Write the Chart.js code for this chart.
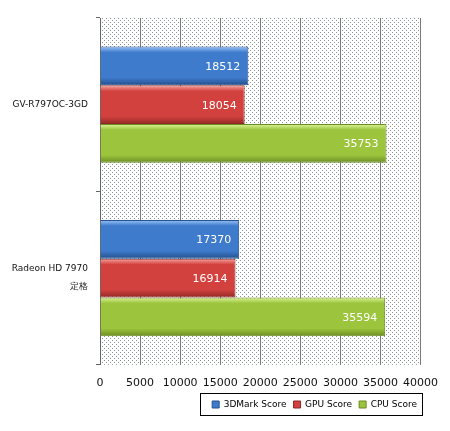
<!DOCTYPE html>
<html>
<head>
<meta charset="utf-8">
<script src="https://cdn.jsdelivr.net/npm/chart.js@4"></script>
<style>
  body { margin: 0; background: #fff; }
  #wrap { width: 450px; height: 431px; }
</style>
</head>
<body>
<div id="wrap"><canvas id="barChart"></canvas></div>
<script>
const cards = [["GV-R797OC-3GD"], ["Radeon HD 7970", "定格"]];
const seriesNames = ["3DMark Score", "GPU Score", "CPU Score"];
const score3dmark = [18512, 17370];
const scoreGpu = [18054, 16914];
const scoreCpu = [35753, 35594];
const xTicks = [0, 5000, 10000, 15000, 20000, 25000, 30000, 35000, 40000];

const palette = [
    { top: '#9cc6f7', mid: '#3f7bcc', bot: '#244f8c', edge: '#24508f' },
    { top: '#f8a5a1', mid: '#d2413e', bot: '#922926', edge: '#8f2724' },
    { top: '#def59a', mid: '#9cc43d', bot: '#6c8c22', edge: '#6a8a22' }
];

// stippled background of the plot area
const dotsPlugin = {
    id: 'dots',
    beforeDraw(chart) {
        const a = chart.chartArea;
        const p = document.createElement('canvas');
        p.width = 4; p.height = 4;
        const pc = p.getContext('2d');
        pc.fillStyle = '#ffffff';
        pc.fillRect(0, 0, 4, 4);
        pc.fillStyle = '#8a9296';
        pc.fillRect(0, 0, 1, 1);
        pc.fillRect(2, 2, 1, 1);
        const ctx = chart.ctx;
        ctx.save();
        ctx.fillStyle = ctx.createPattern(p, 'repeat');
        ctx.fillRect(a.left, a.top, a.right - a.left, a.bottom - a.top);
        ctx.restore();
    }
};

// shaded bars, value labels, legend placement and frame
const labelPlugin = {
    id: 'labels',
    afterLayout(chart) {
        const l = chart.legend;
        const dx = -19, dy = 393 - l.top;
        l.left += dx; l.right += dx; l.top += dy; l.bottom += dy;
    },
    beforeDatasetsDraw(chart) {
        const ctx = chart.ctx;
        chart.data.datasets.forEach((ds, i) => {
            const c = palette[i];
            chart.getDatasetMeta(i).data.forEach(bar => {
                const h = bar.height;
                const g = ctx.createLinearGradient(0, bar.y - h / 2, 0, bar.y + h / 2);
                g.addColorStop(0, c.top);
                g.addColorStop(0.15, c.mid);
                g.addColorStop(0.8, c.mid);
                g.addColorStop(1, c.bot);
                bar.options = Object.assign({}, bar.options, { backgroundColor: g });
            });
        });
    },
    afterDatasetsDraw(chart) {
        const ctx = chart.ctx;
        ctx.save();
        ctx.font = '11px "DejaVu Sans"';
        ctx.fillStyle = '#ffffff';
        ctx.textAlign = 'right';
        ctx.textBaseline = 'middle';
        chart.data.datasets.forEach((ds, i) => {
            chart.getDatasetMeta(i).data.forEach((bar, j) => {
                ctx.fillText(ds.data[j], bar.x - 8, bar.y + 1);
            });
        });
        ctx.restore();
    },
    afterDraw(chart) {
        const ctx = chart.ctx;
        ctx.save();
        ctx.strokeStyle = '#000';
        ctx.lineWidth = 1;
        ctx.strokeRect(200.5, 393.5, 222, 22);
        ctx.restore();
    }
};

new Chart(document.getElementById('barChart').getContext('2d'), {
    type: 'bar',
    data: {
        labels: cards,
        datasets: [
            { label: seriesNames[0], data: score3dmark, backgroundColor: palette[0].mid, borderColor: palette[0].edge },
            { label: seriesNames[1], data: scoreGpu, backgroundColor: palette[1].mid, borderColor: palette[1].edge },
            { label: seriesNames[2], data: scoreCpu, backgroundColor: palette[2].mid, borderColor: palette[2].edge }
        ].map(d => Object.assign(d, { borderWidth: 1, barPercentage: 1, categoryPercentage: 0.67 }))
    },
    options: {
        indexAxis: 'y',
        responsive: true,
        maintainAspectRatio: false,
        animation: false,
        layout: { padding: { top: 18, right: 7, left: 0, bottom: 3 } },
        plugins: {
            tooltip: { enabled: false },
            legend: {
                position: 'bottom',
                align: 'end',
                labels: {
                    boxWidth: 7,
                    boxHeight: 7,
                    padding: 7,
                    font: { family: 'DejaVu Sans', size: 9 },
                    color: '#222',
                    generateLabels(chart) {
                        return chart.data.datasets.map((ds, i) => ({
                            text: ds.label,
                            fillStyle: palette[i].mid,
                            strokeStyle: palette[i].edge,
                            lineWidth: 1,
                            datasetIndex: i
                        }));
                    }
                }
            }
        },
        scales: {
            x: {
                min: 0,
                max: 40000,
                afterBuildTicks(axis) { axis.ticks = xTicks.map(v => ({ value: v })); },
                grid: { color: '#7a7a7a', drawTicks: false },
                border: { display: false },
                ticks: {
                    padding: 12, maxRotation: 0,
                    callback: v => String(v),
                    font: { family: 'DejaVu Sans', size: 11 }, color: '#111'
                }
            },
            y: {
                afterFit(axis) { axis.width = 100; axis.paddingTop = 0; axis.paddingBottom = 0; },
                grid: { drawOnChartArea: false, tickLength: 4, color: '#666' },
                border: { display: true, color: '#666' },
                ticks: { padding: 8, font: { family: 'DejaVu Sans', size: 9, lineHeight: 2 }, color: '#111' }
            }
        }
    },
    plugins: [dotsPlugin, labelPlugin]
});
</script>
</body>
</html>
